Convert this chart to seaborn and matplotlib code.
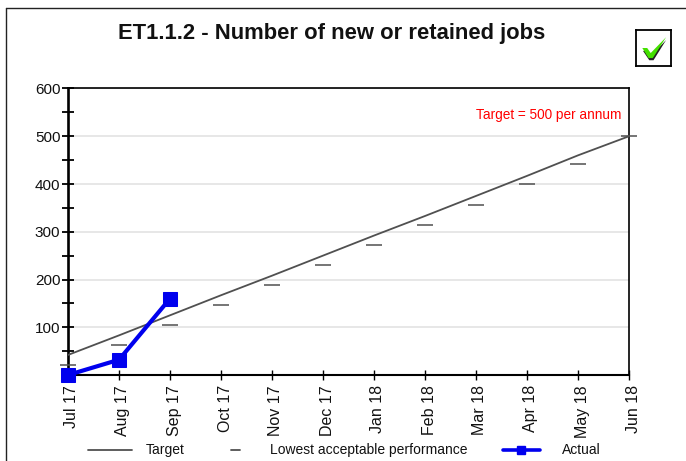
import numpy as np
import pandas as pd
import matplotlib
matplotlib.use('Agg')
import matplotlib.pyplot as plt
import matplotlib.transforms as mtrans
import seaborn as sns
from matplotlib.lines import Line2D
from matplotlib.patches import Polygon

months = ['Jul 17', 'Aug 17', 'Sep 17', 'Oct 17', 'Nov 17', 'Dec 17',
          'Jan 18', 'Feb 18', 'Mar 18', 'Apr 18', 'May 18', 'Jun 18']
target = [42, 83, 125, 167, 208, 250, 292, 333, 375, 417, 460, 500]
lowest = [20, 62, 104, 146, 188, 231, 273, 315, 357, 400, 441, 500]
actual = [0, 32, 160]

sns.set_theme(style='white')
plt.rcParams['font.family'] = ['Liberation Sans', 'DejaVu Sans']

W, H = 686, 461
fig = plt.figure(figsize=(W / 100, H / 100), dpi=100)
ax = fig.add_axes([68 / W, 1 - 375 / H, (629 - 68) / W, (375 - 88.5) / H])

df = pd.DataFrame({'month': months, 'target': target, 'lowest': lowest})
df_actual = pd.DataFrame({'month': months[:3], 'actual': actual})

sns.lineplot(data=df, x='month', y='target', color='#505050', lw=1.3, ax=ax, sort=False, zorder=3)
sns.lineplot(data=df, x='month', y='lowest', color='#505050', linestyle='none', marker='_',
             markersize=11, markeredgewidth=1.1, markeredgecolor='#505050', ax=ax, sort=False,
             zorder=3, clip_on=False)
sns.lineplot(data=df_actual, x='month', y='actual', color='#0000ee', lw=3, marker='s',
             markersize=10.5, markeredgecolor='#0000ee', ax=ax, sort=False, zorder=5, clip_on=False)

ax.set_xlim(0, 11)
ax.set_ylim(0, 600)
ax.set_xlabel('')
ax.set_ylabel('')
ax.set_yticks([100, 200, 300, 400, 500, 600])
ax.set_yticks(np.arange(50, 600, 100), minor=True)
ax.set_yticklabels(['100', '200', '300', '400', '500', '600'], fontsize=11, color='#111111')
ax.tick_params(axis='y', which='major', direction='inout', length=8, width=1.3, left=True, pad=1.5, color='black')
ax.tick_params(axis='y', which='minor', direction='inout', length=8, width=1.3, left=True, color='black')
ax.tick_params(axis='x', direction='inout', length=6.7, width=1, bottom=True, pad=4, color='black')
ax.set_xticks(range(12))
ax.set_xticklabels(months, rotation=90, fontsize=11.5, color='#111111')

# rotated labels sit a little right of their ticks in the original
shift = mtrans.ScaledTranslation(4 / 100, 0, fig.dpi_scale_trans)
for lab in ax.get_xticklabels():
    lab.set_transform(lab.get_transform() + shift)

ax.grid(axis='y', which='major', color='#e0e0e0', lw=1.1)
ax.set_axisbelow(True)
ax.spines['left'].set_linewidth(1.9)
ax.spines['bottom'].set_linewidth(1.5)
ax.spines['top'].set_linewidth(1.2)
ax.spines['right'].set_linewidth(1.2)
for s in ax.spines.values():
    s.set_color('black')
    s.set_visible(True)
if ax.get_legend():
    ax.get_legend().remove()

ax.text(0.987, 0.906, 'Target = 500 per annum', color='#ff0000', fontsize=9.8,
        ha='right', va='center', transform=ax.transAxes)

fig.text(331.5 / W, 1 - 33.5 / H, 'ET1.1.2 - Number of new or retained jobs', fontsize=15.8,
         fontweight='bold', color='#111111', ha='center', va='center')

# outer frame, only top and left edges are visible
fig.add_artist(Line2D([6 / W, 6 / W], [0, 1 - 8.5 / H], color='#222222', lw=1))
fig.add_artist(Line2D([6 / W, 1], [1 - 8.5 / H, 1 - 8.5 / H], color='#222222', lw=1))

# status tick box
box = fig.add_axes([636 / W, 1 - 66 / H, 35 / W, 36 / H])
box.set_xlim(0, 1)
box.set_ylim(0, 1)
box.set_xticks([])
box.set_yticks([])
for s in box.spines.values():
    s.set_linewidth(1.3)
    s.set_color('black')
    s.set_visible(True)
box.add_patch(Polygon([[0.2, 0.42], [0.34, 0.42], [0.44, 0.3], [0.86, 0.72], [0.5, 0.16], [0.38, 0.16]],
                      closed=True, facecolor='#222222', edgecolor='none'))
box.add_patch(Polygon([[0.18, 0.5], [0.32, 0.5], [0.42, 0.36], [0.86, 0.8], [0.48, 0.22], [0.36, 0.22]],
                      closed=True, facecolor='#44e000', edgecolor='none'))

# legend along the bottom
legend_y = 1 - 450 / H
fig.add_artist(Line2D([88 / W, 132 / W], [legend_y, legend_y], color='#505050', lw=1.3))
fig.add_artist(Line2D([231 / W, 240 / W], [legend_y, legend_y], color='#505050', lw=1.3))
fig.add_artist(Line2D([503 / W, 540 / W], [legend_y, legend_y], color='#0000ee', lw=2.6))
fig.add_artist(Line2D([521 / W], [legend_y], color='#0000ee', marker='s', markersize=6))
fig.text(165 / W, legend_y, 'Target', fontsize=10, color='#111111', ha='center', va='center')
fig.text(369 / W, legend_y, 'Lowest acceptable performance', fontsize=10, color='#111111', ha='center', va='center')
fig.text(581 / W, legend_y, 'Actual', fontsize=10, color='#111111', ha='center', va='center')

fig.savefig('out.png', dpi=100)
